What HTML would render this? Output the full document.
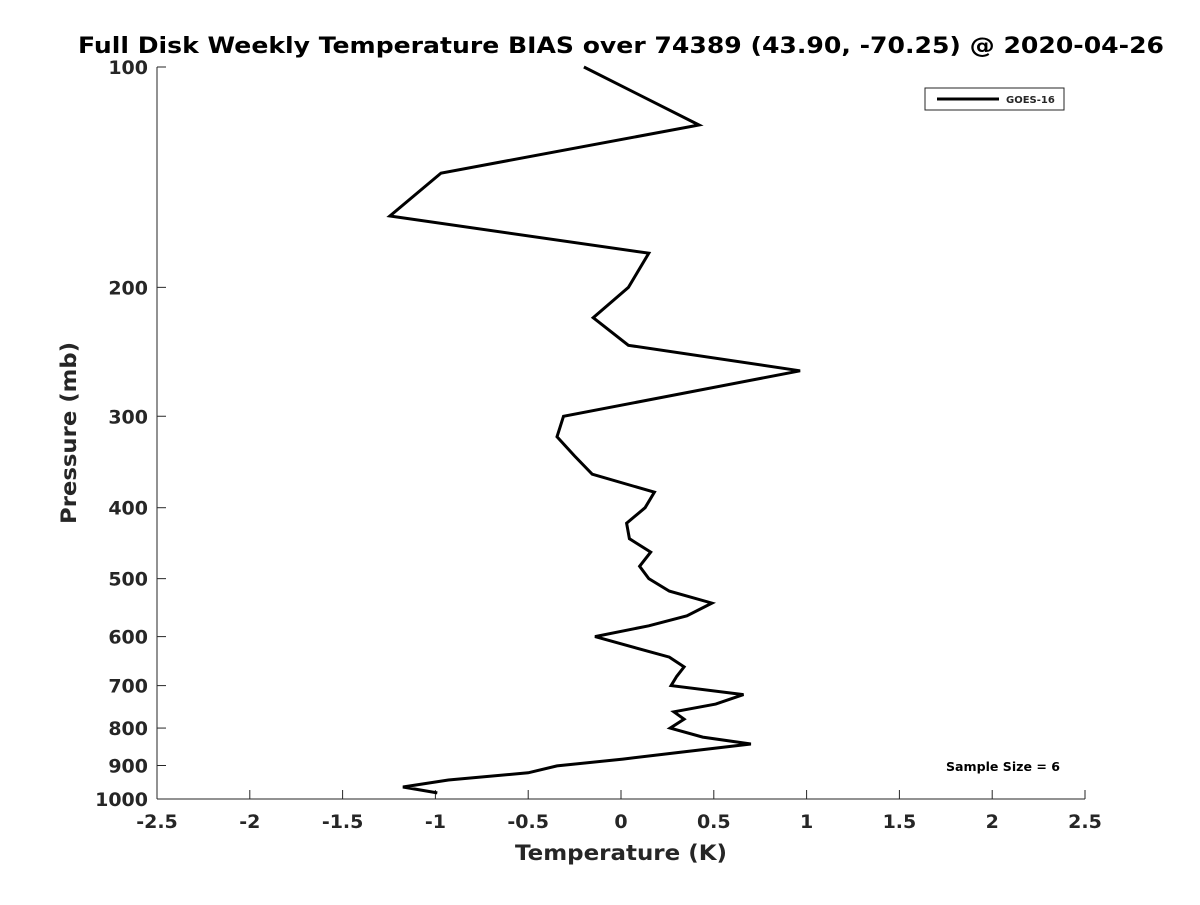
<!DOCTYPE html>
<html><head><meta charset="utf-8"><style>
body{margin:0;background:#fff;}
svg text{font-family:"DejaVu Sans","Liberation Sans",sans-serif;font-weight:bold;fill:#262626;}
</style></head><body>
<svg id="chart" width="1200" height="900" xmlns="http://www.w3.org/2000/svg">
<rect width="1200" height="900" fill="#fff"/>
<text x="621" y="53" text-anchor="middle" font-size="22" textLength="1086" lengthAdjust="spacingAndGlyphs" style="fill:#000">Full Disk Weekly Temperature BIAS over 74389 (43.90, -70.25) @ 2020-04-26</text>
<g id="axes"></g>
<g id="series"></g>
<g>
<rect x="925" y="88" width="139" height="22" fill="#fff" stroke="#262626" stroke-width="1"/>
<line x1="937" y1="99" x2="999" y2="99" stroke="#000" stroke-width="3"/>
<text x="1006" y="103" font-size="10">GOES-16</text>
</g>
<text x="1003" y="771" text-anchor="middle" font-size="12" textLength="114" lengthAdjust="spacingAndGlyphs" style="fill:#000">Sample Size = 6</text>
<text x="621" y="860" text-anchor="middle" font-size="21" textLength="212" lengthAdjust="spacingAndGlyphs">Temperature (K)</text>
<text transform="translate(76,433) rotate(-90)" text-anchor="middle" font-size="21" textLength="182" lengthAdjust="spacingAndGlyphs">Pressure (mb)</text>
</svg>
<script>
const xTicks=[-2.5,-2,-1.5,-1,-0.5,0,0.5,1,1.5,2,2.5];
const xTickLabels=["-2.5","-2","-1.5","-1","-0.5","0","0.5","1","1.5","2","2.5"];
const yTicks=[100,200,300,400,500,600,700,800,900,1000];
const pressures=[100,120,139.6,159.8,179.6,200,220,240,260,300,320,340,360,381,400,420,441,460,481,500,520,540,562,580,600,640,660,680,700,720,742,760,778,800,823,841,863,882,901,921,942,963,981];
const bias=[-0.20,0.42,-0.97,-1.245,0.15,0.04,-0.15,0.04,0.965,-0.31,-0.345,-0.25,-0.155,0.18,0.13,0.03,0.045,0.16,0.10,0.15,0.26,0.49,0.355,0.15,-0.14,0.26,0.34,0.30,0.27,0.66,0.51,0.285,0.34,0.265,0.44,0.70,0.32,0.01,-0.345,-0.50,-0.93,-1.175,-0.99];
const NS="http://www.w3.org/2000/svg";
const L=157,R=1085,T=67,B=799;
const xs=v=>L+(v+2.5)/5*(R-L);
const ys=p=>T+(Math.log10(p)-2)*(B-T);
const axes=document.getElementById('axes');
function mk(tag,attrs,parent){const e=document.createElementNS(NS,tag);for(const k in attrs)e.setAttribute(k,attrs[k]);parent.appendChild(e);return e;}
const xa=mk('line',{x1:L,y1:B,x2:R,y2:B,stroke:'#262626','stroke-width':1},axes);


const ya=mk('line',{x1:L,y1:T,x2:L,y2:B,stroke:'#262626','stroke-width':1},axes);


xTicks.forEach((v,i)=>{
 const x=xs(v);
 const t=mk('line',{x1:x,y1:B,x2:x,y2:B-9,stroke:'#262626'},axes);
 
 
 const lb=mk('text',{x:x,y:B+29,'text-anchor':'middle','font-size':19},axes);
 lb.textContent=xTickLabels[i];
 
 
});
yTicks.forEach(p=>{
 const y=ys(p);
 const t=mk('line',{x1:L,y1:y,x2:L+9,y2:y,stroke:'#262626'},axes);
 
 
 const lb=mk('text',{x:L-9,y:y+7,'text-anchor':'end','font-size':19},axes);
 lb.textContent=String(p);
 
 
});
const pts=pressures.map((p,i)=>xs(bias[i]).toFixed(1)+','+ys(p).toFixed(1)).join(' ');
const line=mk('polyline',{points:pts,fill:'none',stroke:'#000','stroke-width':3,'stroke-linejoin':'miter'},document.getElementById('series'));


</script>
</body></html>
